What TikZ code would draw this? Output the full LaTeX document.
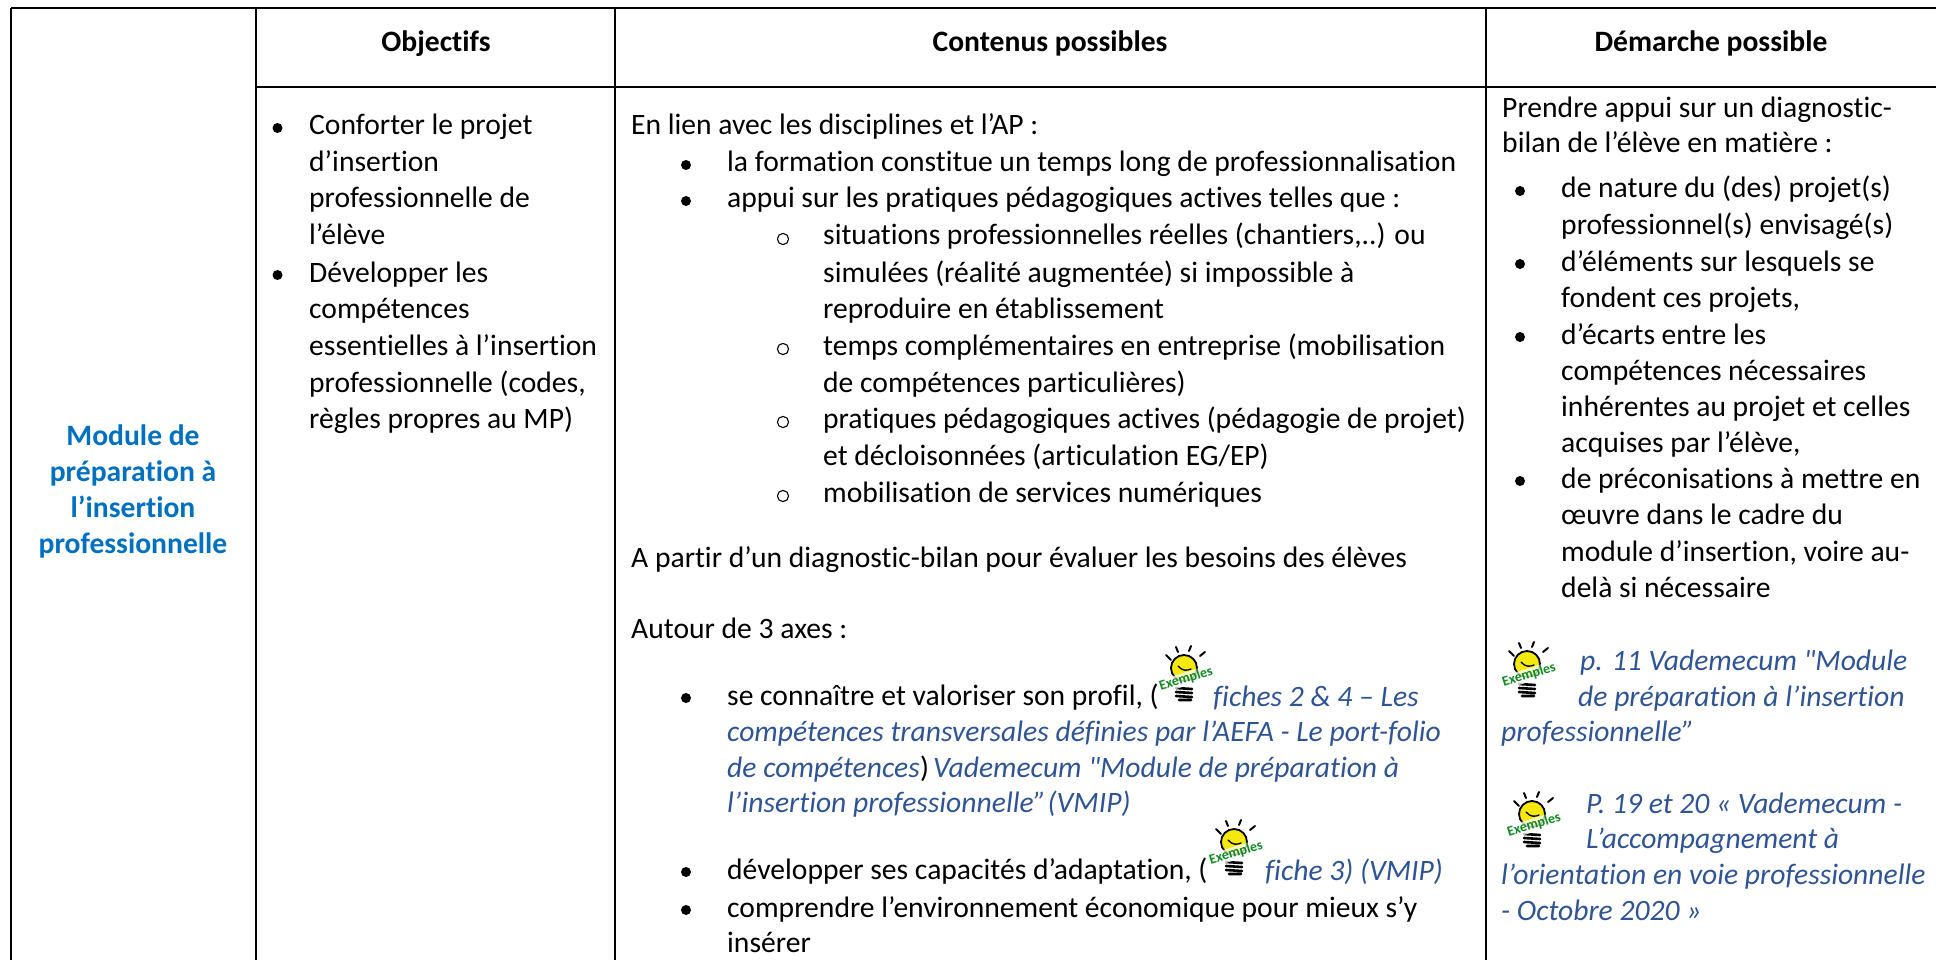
\documentclass[tikz,border=0pt]{standalone}
\usepackage{fontspec}
\newfontfamily\calib[Ligatures=NoCommon]{Carlito}
\definecolor{lk}{HTML}{2F5496}
\definecolor{hd}{HTML}{0070C0}
\definecolor{gr}{HTML}{0F8A1E}
\newcount\tln
\newcommand{\tl}[3]{\global\advance\tln by 1 \node[txt,name=t\the\tln] at (#1,#2) {#3};}
\newcommand{\bl}[3]{\global\advance\tln by 1 \node[txt,lk,italic,name=t\the\tln] at (#1,#2) {#3};}
\newcommand{\bul}[2]{\fill (#1,#2-7) circle (5);}
\newcommand{\cir}[2]{\draw[line width=1.1pt] (#1,#2-6) circle (5.6);}
\tikzset{
 x=1pt,y=-1pt,
 txt/.style={anchor=base west,inner sep=0,font=\calib\fontsize{29.6}{36}\selectfont},
 italic/.style={font=\calib\fontsize{29.6}{36}\selectfont\itshape},
 hdr/.style={anchor=base,inner sep=0,font=\calib\fontsize{29.6}{36}\selectfont\bfseries},
 mod/.style={anchor=base,inner sep=0,text=hd,font=\calib\fontsize{29.6}{36}\selectfont\bfseries},
 rule/.style={line width=2.3pt},
 bulb/.pic={
  \fill[yellow!95!black,draw=black,line width=1.8pt] (0,0) circle (13);
  \draw[line width=1.3pt,line cap=round] (-6,-2) .. controls (-2,3) and (3,3) .. (7,1);
  \foreach \a/\b/\c/\d in {-18/-13/-13/-8, -8/-21/-6/-16, 7/-22/5/-17, 21/-16/16/-12}
   \draw[line width=2pt,line cap=round] (\a,\b) -- (\c,\d);
  \draw[line width=2.6pt,line cap=round] (-8,20) -- (8,21) (-8,24) -- (8,25) (-8,28) -- (8,29) (-5,32) -- (7,32);
  \node[inner sep=0.6pt,fill=white,fill opacity=.75,text opacity=1,text=gr,rotate=17,font=\calib\fontsize{14}{14}\selectfont\bfseries] (-lab) at (2,11) {Exemples};
 }
}
\begin{document}
\begin{tikzpicture}
\useasboundingbox (0,0) rectangle (1936,960);
\coordinate (tl) at (11,8); \coordinate (tr) at (1936,8);
\coordinate (ml) at (256,87); \coordinate (mr) at (1936,87);
\coordinate (bl) at (11,960); \coordinate (b1) at (256,960);
\coordinate (b2) at (615,960); \coordinate (b3) at (1486,960);
\coordinate (t1) at (256,8); \coordinate (t2) at (615,8); \coordinate (t3) at (1486,8);
\draw[rule] (tl) -- (tr) (ml) -- (mr) (tl) -- (bl) (t1) -- (b1) (t2) -- (b2) (t3) -- (b3);
\node[hdr] (h1) at (436,52) {Objectifs};
\node[hdr] (h2) at (1050,52) {Contenus possibles};
\node[hdr] (h3) at (1711,52) {Démarche possible};
\node[mod] (m1) at (133,445) {Module de};
\node[mod] (m2) at (133,481) {préparation à};
\node[mod] (m3) at (133,517) {l’insertion};
\node[mod] (m4) at (133,553) {professionnelle};
\bul{277.5}{135}\tl{309}{135}{Conforter le projet}
\tl{309}{172}{d’insertion}
\tl{309}{208}{professionnelle de}
\tl{309}{245}{l’élève}
\bul{277.5}{282}\tl{309}{282}{Développer les}
\tl{309}{318}{compétences}
\tl{309}{355}{essentielles à l’insertion}
\tl{309}{392}{professionnelle (codes,}
\tl{309}{428}{règles propres au MP)}
\tl{631}{135}{En lien avec les disciplines et l’AP :}
\bul{686}{172}\tl{727}{172}{la formation constitue un temps long de professionnalisation}
\bul{686}{208}\tl{727}{208}{appui sur les pratiques pédagogiques actives telles que :}
\cir{783}{245}\tl{823}{245}{situations professionnelles réelles (chantiers,..) ou}
\tl{823}{282}{simulées (réalité augmentée) si impossible à}
\tl{823}{318}{reproduire en établissement}
\cir{783}{355}\tl{823}{355}{temps complémentaires en entreprise (mobilisation}
\tl{823}{392}{de compétences particulières)}
\cir{783}{428}\tl{823}{428}{pratiques pédagogiques actives (pédagogie de projet)}
\tl{823}{465}{et décloisonnées (articulation EG/EP)}
\cir{783}{502}\tl{823}{502}{mobilisation de services numériques}
\tl{631}{567}{A partir d’un diagnostic-bilan pour évaluer les besoins des élèves}
\tl{631}{638}{Autour de 3 axes :}
\bul{686}{705}\tl{727}{705}{se connaître et valoriser son profil, (}
\bl{1213}{706}{fiches 2 \& 4 – Les}
\bl{727}{741}{compétences transversales définies par l’AEFA - Le port-folio}
\bl{727}{777}{de compétences}\tl{920}{777}{)}\bl{933}{777}{Vademecum "Module de préparation à}
\bl{727}{812}{l’insertion professionnelle” \hspace{-5pt}(VMIP)}
\bul{686}{879}\tl{727}{879}{développer ses capacités d’adaptation, (}
\bl{1265}{880}{fiche 3) (VMIP)}
\bul{686}{917}\tl{727}{917}{comprendre l’environnement économique pour mieux s’y}
\tl{727}{952}{insérer}
\tl{1502}{118}{Prendre appui sur un diagnostic-}
\tl{1502}{153}{bilan de l’élève en matière :}
\bul{1520}{198}\tl{1561}{198}{de nature du (des) projet(s)}
\tl{1561}{235}{professionnel(s) envisagé(s)}
\bul{1520}{271}\tl{1561}{271}{d’éléments sur lesquels se}
\tl{1561}{307}{fondent ces projets,}
\bul{1520}{344}\tl{1561}{344}{d’écarts entre les}
\tl{1561}{380}{compétences nécessaires}
\tl{1561}{416}{inhérentes au projet et celles}
\tl{1561}{452}{acquises par l’élève,}
\bul{1520}{488}\tl{1561}{488}{de préconisations à mettre en}
\tl{1561}{524}{œuvre dans le cadre du}
\tl{1561}{561}{module d’insertion, voire au-}
\tl{1561}{597}{delà si nécessaire}
\bl{1580}{670}{p. 11 Vademecum "Module}
\bl{1578}{706}{de préparation à l’insertion}
\bl{1501}{741}{professionnelle”}
\bl{1586}{813}{P. 19 et 20 « Vademecum -}
\bl{1586}{848}{L’accompagnement à}
\bl{1501}{884}{l’orientation en voie professionnelle}
\bl{1501}{920}{- Octobre 2020 »}
\pic (b1) at (1527,664) {bulb};
\pic (b2) at (1532,814) {bulb};
\pic (b3) at (1184,668) {bulb};
\pic (b4) at (1234,842) {bulb};
\end{tikzpicture}
\end{document}
